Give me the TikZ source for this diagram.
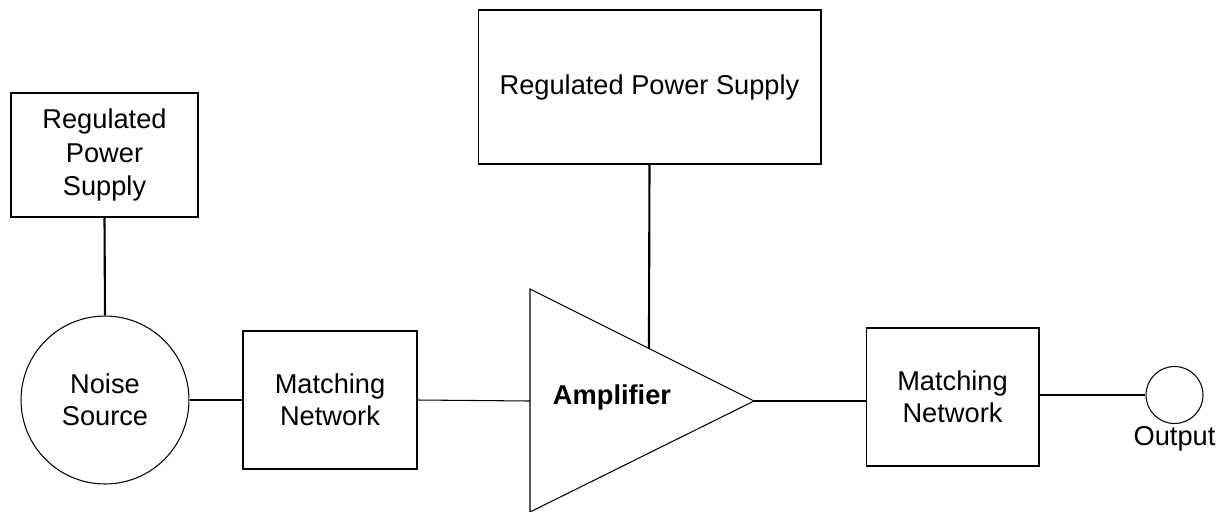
\documentclass[tikz,border=0pt]{standalone}
\usepackage{fontspec}
\setmainfont{Liberation Sans}
\usetikzlibrary{calc}
\tikzset{
	blockbox/.style={draw=black, line width=0.6pt, rectangle, inner sep=0pt, align=center, font=\fontsize{15.5}{19}\selectfont},
	roundbox/.style={draw=black, line width=0.6pt, circle, inner sep=0pt, align=center, font=\fontsize{15.5}{18}\selectfont},
	thinwire/.style={black, line width=0.6pt},
	thickwire/.style={black, line width=1.2pt}
}

\begin{document}
\begin{tikzpicture}[x=0.02cm, y=-0.02cm]
\useasboundingbox (0,0) rectangle (1227,511);
\node[blockbox, minimum width=3.74cm, minimum height=2.48cm] (psleft) at (104.5,155) {Regulated\\Power\\Supply};
\node[roundbox, minimum size=3.36cm] (noise) at (105,400) {Noise\\Source};
\node[blockbox, minimum width=3.48cm, minimum height=2.76cm, font=\fontsize{15.5}{18}\selectfont] (matchin) at (330,400) {Matching\\Network};
\node[blockbox, minimum width=6.86cm, minimum height=3.08cm] (pstop) at (649.5,87) {Regulated Power Supply};
\coordinate (ampup) at (530,289);
\coordinate (ampdown) at (530,512);
\coordinate (ampin) at (530,401);
\coordinate (ampout) at (754,401);
\draw[thinwire] (ampup)--(ampout)--(ampdown)--cycle;
\coordinate (ampfeed) at ($(ampup)!0.531!(ampout)$);
\node[font=\fontsize{15.5}{18}\selectfont\bfseries] (amp) at (612,397) {Amplifier};
\node[blockbox, minimum width=3.46cm, minimum height=2.76cm, font=\fontsize{15.5}{18}\selectfont] (matchout) at (952.5,397) {Matching\\Network};
\node[roundbox, minimum size=1.14cm] (out) at (1174.5,395) {};
\node[font=\fontsize{15.5}{18}\selectfont, below=-2pt] (outlabel) at (out.south) {Output};
\draw[thickwire] (psleft.south)--(noise.north);
\draw[thickwire] (noise.east)--(matchin.west);
\draw[thinwire] (matchin.east)--(ampin);
\draw[thickwire] (pstop.south)--(ampfeed);
\draw[thinwire] (ampout)--(matchout.west |- ampout);
\draw[thickwire] (matchout.east |- out.west)--(out.west);
\end{tikzpicture}
\end{document}
